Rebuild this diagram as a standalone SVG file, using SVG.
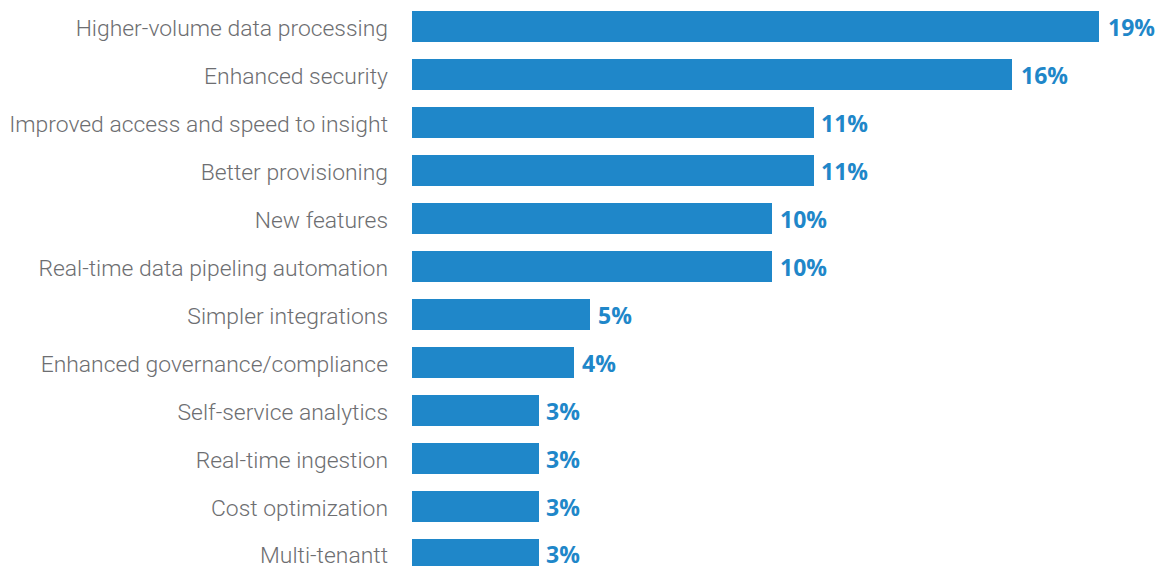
<svg xmlns="http://www.w3.org/2000/svg" width="1157" height="566" viewBox="0 0 1157 566">
<style>
.bar{fill:#1f87c9}
.lbl{font-family:Roboto,"Open Sans","Liberation Sans",sans-serif;font-weight:300;font-size:22.9px;fill:#6d6e71;text-anchor:end}
.val{font-family:"Open Sans","Liberation Sans",sans-serif;font-weight:700;font-size:23px;fill:#1f87c9}
</style>
<rect width="1157" height="566" fill="#ffffff"/>
<g id="row1"><text class="lbl" x="388" y="36">Higher-volume data processing</text><rect class="bar" x="412" y="11" width="687" height="31"/><text class="val" x="1108" y="36">19%</text></g>
<g id="row2"><text class="lbl" x="388" y="84">Enhanced security</text><rect class="bar" x="412" y="59" width="600" height="31"/><text class="val" x="1021" y="84">16%</text></g>
<g id="row3"><text class="lbl" x="388" y="132">Improved access and speed to insight</text><rect class="bar" x="412" y="107" width="402" height="31"/><text class="val" x="821" y="132">11%</text></g>
<g id="row4"><text class="lbl" x="388" y="180">Better provisioning</text><rect class="bar" x="412" y="155" width="402" height="31"/><text class="val" x="821" y="180">11%</text></g>
<g id="row5"><text class="lbl" x="388" y="228">New features</text><rect class="bar" x="412" y="203" width="360" height="31"/><text class="val" x="780" y="228">10%</text></g>
<g id="row6"><text class="lbl" x="388" y="276">Real-time data pipeling automation</text><rect class="bar" x="412" y="251" width="360" height="31"/><text class="val" x="780" y="276">10%</text></g>
<g id="row7"><text class="lbl" x="388" y="324">Simpler integrations</text><rect class="bar" x="412" y="299" width="178" height="31"/><text class="val" x="598" y="324">5%</text></g>
<g id="row8"><text class="lbl" x="388" y="372">Enhanced governance/compliance</text><rect class="bar" x="412" y="347" width="162" height="31"/><text class="val" x="582" y="372">4%</text></g>
<g id="row9"><text class="lbl" x="388" y="420">Self-service analytics</text><rect class="bar" x="412" y="395" width="127" height="31"/><text class="val" x="546" y="420">3%</text></g>
<g id="row10"><text class="lbl" x="388" y="468">Real-time ingestion</text><rect class="bar" x="412" y="443" width="127" height="31"/><text class="val" x="546" y="468">3%</text></g>
<g id="row11"><text class="lbl" x="388" y="516">Cost optimization</text><rect class="bar" x="412" y="491" width="127" height="31"/><text class="val" x="546" y="516">3%</text></g>
<g id="row12"><text class="lbl" x="388" y="563">Multi-tenantt</text><rect class="bar" x="412" y="539" width="127" height="31"/><text class="val" x="546" y="563">3%</text></g>
<g id="connectors"/>
</svg>
